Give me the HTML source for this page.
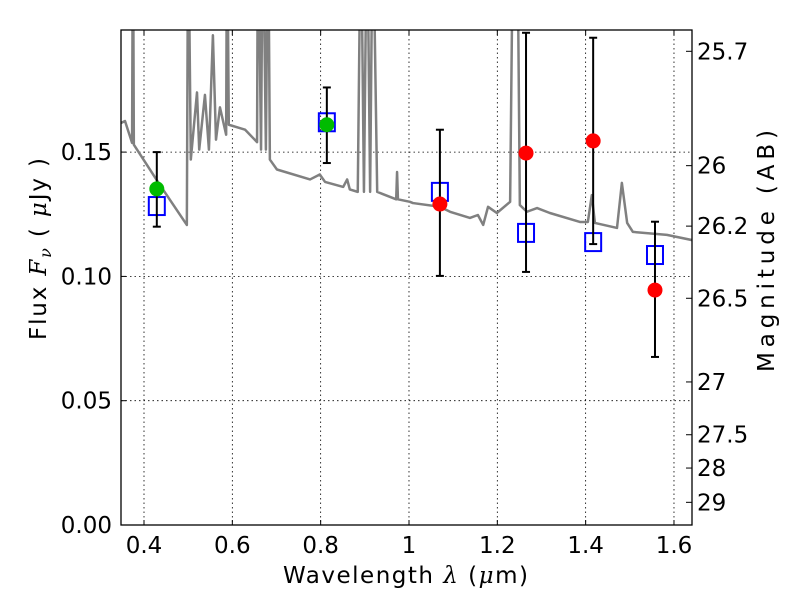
<!DOCTYPE html>
<html><head><meta charset="utf-8"><style>
body{margin:0;background:#fff;}
svg{display:block;font-family:"DejaVu Sans","Liberation Sans",sans-serif;}
</style></head><body>
<svg id="chart" width="800" height="600" viewBox="0 0 800 600" xmlns="http://www.w3.org/2000/svg">
<rect width="800" height="600" fill="#fff"/>
<defs><clipPath id="clip"><rect x="121" y="30" width="571" height="495"/></clipPath></defs>
<g id="grid"></g>
<g id="spec" clip-path="url(#clip)"></g>
<g id="pts" clip-path="url(#clip)"></g>
<rect x="121" y="30" width="571" height="495" fill="none" stroke="#000" stroke-width="1.3"/>
<g id="axes"></g>
<text x="283" y="583" font-size="23" textLength="245" lengthAdjust="spacing">Wavelength  <tspan font-style="italic" font-family="DejaVu Serif,serif">λ</tspan> (<tspan font-style="italic" font-family="DejaVu Serif,serif">μ</tspan>m)</text>
<text transform="translate(46,340) rotate(-90)" font-size="23" textLength="182" lengthAdjust="spacing">Flux  <tspan font-style="italic" font-family="DejaVu Serif,serif">F</tspan><tspan font-style="italic" font-family="DejaVu Serif,serif" font-size="16" dy="5">ν</tspan><tspan dy="-5">  (  </tspan><tspan font-style="italic" font-family="DejaVu Serif,serif">μ</tspan>Jy )</text>
<text transform="translate(774,372) rotate(-90)" font-size="23" textLength="242" lengthAdjust="spacing">Magnitude (AB)</text>
</svg>
<script>
const specLam=[0.348,0.357,0.373,0.375,0.377,0.436,0.497,0.500,0.506,0.520,0.525,0.538,0.547,0.556,0.563,0.572,0.586,0.588,0.592,0.629,0.656,0.658,0.665,0.669,0.676,0.681,0.685,0.701,0.776,0.798,0.810,0.851,0.860,0.866,0.884,0.891,0.898,0.905,0.912,0.918,0.928,0.971,0.973,0.975,1.002,1.009,1.070,1.093,1.138,1.156,1.168,1.179,1.199,1.229,1.236,1.245,1.251,1.267,1.290,1.319,1.387,1.405,1.414,1.421,1.471,1.482,1.494,1.507,1.584,1.641];
const specFlux=[0.1617,0.1625,0.1537,0.25,0.153,0.1368,0.1207,0.25,0.147,0.174,0.151,0.173,0.151,0.197,0.155,0.168,0.157,0.25,0.161,0.159,0.154,0.25,0.151,0.25,0.151,0.25,0.147,0.143,0.139,0.141,0.138,0.136,0.139,0.135,0.134,0.25,0.134,0.25,0.134,0.25,0.134,0.131,0.142,0.131,0.130,0.1295,0.128,0.126,0.1235,0.1247,0.1207,0.128,0.1255,0.130,0.25,0.25,0.1287,0.126,0.1275,0.1255,0.1219,0.1219,0.1327,0.1215,0.1195,0.1376,0.1215,0.1179,0.1167,0.1146];
const obsLam=[0.429,0.814,1.070,1.265,1.417,1.557];
const obsFlux=[0.1352,0.161,0.1291,0.1496,0.1545,0.0945];
const errLo=[0.120,0.1456,0.1002,0.1018,0.113,0.0676];
const errHi=[0.150,0.176,0.159,0.198,0.196,0.122];
const obsColor=['#00bb00','#00bb00','red','red','red','red'];
const modelFlux=[0.1283,0.162,0.134,0.1175,0.1138,0.1086];
const xTicks=[0.4,0.6,0.8,1.0,1.2,1.4,1.6];
const xTickLabels=['0.4','0.6','0.8','1','1.2','1.4','1.6'];
const yTicks=[0,0.05,0.10,0.15];
const yTickLabels=['0.00','0.05','0.10','0.15'];
const magTicks=[25.7,26,26.2,26.5,27,27.5,28,29];
const magTickLabels=['25.7','26','26.2','26.5','27','27.5','28','29'];

const NS='http://www.w3.org/2000/svg';
const X=l=>144+(l-0.4)*441.65;
const Y=f=>525-f*2486;
const magToFlux=m=>Math.pow(10,(23.9-m)/2.5);
function mk(tag,attrs,parent){const e=document.createElementNS(NS,tag);for(const k in attrs)e.setAttribute(k,attrs[k]);parent.appendChild(e);return e;}
const grid=document.getElementById('grid'),axes=document.getElementById('axes'),spec=document.getElementById('spec'),pts=document.getElementById('pts');
xTicks.forEach((t,i)=>{
  const x=X(t);
  const g=mk('line',{x1:x,x2:x,y1:30,y2:525,stroke:'#000','stroke-width':0.8,'stroke-dasharray':'1.5,3'},grid);
  
  
  mk('line',{x1:x,x2:x,y1:525,y2:520,stroke:'#000'},axes);
  mk('line',{x1:x,x2:x,y1:30,y2:35,stroke:'#000'},axes);
  const tx=mk('text',{x:x,y:553,'font-size':23,'text-anchor':'middle'},axes);
  tx.textContent=xTickLabels[i];
  
  
});
yTicks.forEach((t,i)=>{
  const y=Y(t);
  if(t>0){const g=mk('line',{x1:121,x2:692,y1:y,y2:y,stroke:'#000','stroke-width':0.8,'stroke-dasharray':'1.5,3'},grid);
  
  }
  mk('line',{x1:121,x2:126,y1:y,y2:y,stroke:'#000'},axes);
  const tx=mk('text',{x:112,y:y+8,'font-size':23,'text-anchor':'end'},axes);
  tx.textContent=yTickLabels[i];
  
  
});
magTicks.forEach((m,i)=>{
  const y=Y(magToFlux(m));
  mk('line',{x1:686,x2:692,y1:y,y2:y,stroke:'#000'},axes);
  const tx=mk('text',{x:697,y:y+8,'font-size':23},axes);
  tx.textContent=magTickLabels[i];
  
  
});
const p=mk('polyline',{points:specLam.map((l,i)=>X(l)+','+Y(specFlux[i])).join(' '),fill:'none',stroke:'#808080','stroke-width':2.5,'stroke-linejoin':'round'},spec);


obsLam.forEach((l,i)=>{
  const x=X(l);
  const sq=mk('rect',{x:x-8,y:Y(modelFlux[i])-9,width:16,height:18,fill:'none',stroke:'#0000ff','stroke-width':2},pts);
  
  
  const eb=mk('g',{stroke:'#000','stroke-width':2},pts);
  
  
  mk('line',{x1:x,x2:x,y1:Y(errLo[i]),y2:Y(errHi[i])},eb);
  mk('line',{x1:x-4,x2:x+4,y1:Y(errLo[i]),y2:Y(errLo[i])},eb);
  mk('line',{x1:x-4,x2:x+4,y1:Y(errHi[i]),y2:Y(errHi[i])},eb);
  const c=mk('circle',{cx:x,cy:Y(obsFlux[i]),r:7.5,fill:obsColor[i]},pts);
  
  
});
</script>
</body></html>
